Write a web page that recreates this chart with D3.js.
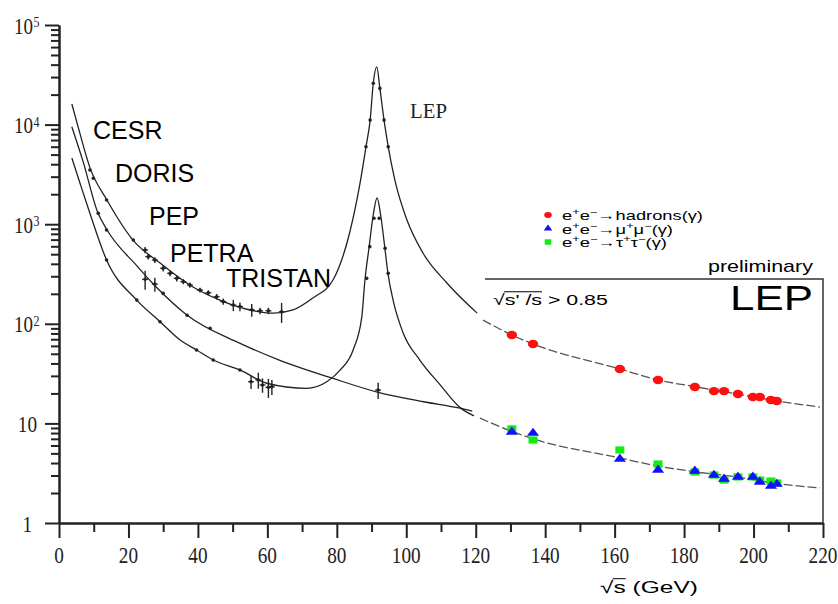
<!DOCTYPE html>
<html>
<head>
<meta charset="utf-8">
<script src="https://cdn.jsdelivr.net/npm/d3@7"></script>
<style>
  body { margin: 0; background: #fff; }
  .serif { font-family: "Liberation Serif", "Times New Roman", serif; fill: #222; }
  .sans { font-family: "Liberation Sans", Arial, sans-serif; fill: #000; }
</style>
</head>
<body>
<svg width="838" height="604"></svg>
<script>
// axis ticks
const xTicks = [0, 20, 40, 60, 80, 100, 120, 140, 160, 180, 200, 220];
const xMinorTicks = [10, 30, 50, 70, 90, 110, 130, 150, 170, 190, 210];
const yTicks = [1, 10, 100, 1000, 10000, 100000];
const yTickBase = ["1", "10", "10", "10", "10", "10"];
const yTickExp = ["", "", "2", "3", "4", "5"];

// theory curves: sqrt(s) in GeV, cross section in pb
const hadCurveE = [3.7, 6.0, 8.9, 13.8, 21.3, 29.1, 38.6, 46.3, 54.1, 61.6, 67.4, 73.1, 78.9, 83.8, 86.7, 88.4, 89.6, 90.5, 91.5, 92.4, 93.6, 94.8, 96.7, 100.2, 104.8, 111.7, 120.4];
const hadCurveS = [16100, 8200, 3700, 1750, 693, 408, 234, 173, 140, 128, 138, 182, 275, 850, 2600, 6000, 11100, 26000, 38000, 23100, 11100, 6000, 2780, 1100, 514, 257, 128];
const hadLep2E = [122.1, 130.4, 136.5, 161.5, 172.5, 183.7, 195.5, 206.7, 219.1];
const hadLep2S = [109, 77.2, 62.7, 35.2, 27.3, 23.2, 19.7, 16.8, 14.6];

const muCurveE = [3.7, 6.05, 8.9, 13.7, 22.4, 29.1, 34.8, 39.6, 44.4, 52.1, 59.8, 71.3, 77.1, 81.0, 84.7, 87.2, 88.1, 89.3, 90.4, 91.6, 92.7, 93.9, 94.7, 96.2, 99.1, 103.9, 109.7, 115.5, 119.5];
const muCurveS = [4620, 2575, 1286, 437, 173, 105, 69, 54.6, 43.3, 34.4, 25.3, 22.5, 26.2, 34.4, 54.6, 118, 275, 590, 1181, 1833, 1181, 551, 324, 173, 80.9, 43.3, 24.5, 14.4, 11.9];
const muLep2E = [121.2, 130.4, 136.5, 161.5, 172.2, 183.7, 195.2, 205.6, 219.1];
const muLep2S = [11.3, 8.3, 7.0, 4.5, 3.74, 3.25, 2.9, 2.52, 2.25];

const qedCurveE = [3.7, 6.9, 11.2, 13.8, 22.5, 28.2, 36.9, 52, 63.6, 78.5, 91.9, 105, 115.5, 119];
const qedCurveS = [9500, 4300, 1300, 880, 380, 230, 122, 64, 43, 28.6, 20.5, 16.5, 14.2, 13.3];

// low energy measurements (small black points)
const lowHadE = [8.9, 9.9, 13.7, 21.4, 24.8, 25.7, 27.6, 30.0, 32.0, 33.9, 35.8, 37.7, 40.6, 43.0, 45.4, 47.3, 50.2, 52.1, 55.5, 57.9, 60.3, 64.1];
const lowHadS = [3500, 2890, 1750, 694, 551, 472, 437, 361, 321, 286, 265, 245, 218, 205, 187, 167, 154, 149, 138, 135, 135, 132];
const lowHadErr = [0, 0, 0, 0, 40, 30, 30, 25, 20, 20, 15, 15, 12, 12, 12, 12, 20, 15, 20, 10, 10, 30];
const lowQedE = [11.3, 13.7, 24.8, 27.6, 30.0, 36.9, 43.5, 91.9];
const lowQedS = [1286, 875, 280, 250, 202, 122, 90, 21.6];
const lowQedErr = [0, 0, 60, 40, 0, 0, 0, 4];
const lowMuE = [13.7, 22.4, 29.1, 39.6, 44.4, 52.1, 55.3, 57.4, 58.6, 60.3, 61.3];
const lowMuS = [437, 173, 105, 54.6, 43.3, 34.4, 26.2, 27.3, 24.3, 23.0, 23.3];
const lowMuErr = [0, 0, 0, 0, 0, 0, 4, 5, 4, 5, 4];

// LEP1 scan points on the Z peak
const lep1HadE = [88.4, 89.6, 90.5, 92.4, 93.6, 94.8];
const lep1HadS = [6000, 11100, 26000, 23100, 11100, 6000];
const lep1MuE = [88.6, 89.5, 90.7, 92.2, 93.9, 94.8];
const lep1MuS = [286, 595, 1146, 1146, 573, 321];

// LEP2 measurements
const lep2E = [130.4, 136.5, 161.5, 172.5, 183.1, 188.6, 191.5, 195.5, 199.8, 201.8, 205.0, 206.7];
const lep2Had = [77.2, 62.7, 35.2, 27.3, 23.2, 21.1, 21.1, 19.7, 18.4, 18.4, 17.2, 16.8];
const lep2Mu = [8.2, 8.0, 4.39, 3.41, 3.33, 3.03, 2.77, 2.9, 2.9, 2.58, 2.35, 2.46];
const lep2Tau = [8.8, 6.81, 5.41, 3.91, 3.25, 3.03, 2.7, 2.9, 2.9, 2.7, 2.64, 2.52];

const legendLabels = ["e^+e^\u2212\u2192hadrons(\u03b3)", "e^+e^\u2212\u2192\u03bc^+\u03bc^\u2212(\u03b3)", "e^+e^\u2212\u2192\u03c4^+\u03c4^\u2212(\u03b3)"];
const legendColors = ["#ff1010", "#1010ff", "#10ee10"];
const machines = ["CESR", "DORIS", "PEP", "PETRA", "TRISTAN"];

const svg = d3.select("svg");

const x = d3.scaleLinear().domain([0, 220]).range([59, 823]);
const y = d3.scaleLog().domain([1, 1e5]).range([523, 25]);

// draw a text squeezed / stretched horizontally to a given width, "^c" = superscript c
function fitText(parent, str, x0, y0, w, anchor, cls, size) {
  const g = parent.append("g");
  const t = g.append("text").attr("class", cls).style("font-size", size + "px");
  let level = 0;
  str.split(/(\^.)/).filter(s => s.length).forEach(s => {
    const sup = s[0] === "^" ? 1 : 0;
    const ts = t.append("tspan").text(sup ? s[1] : s);
    if (sup !== level) ts.attr("dy", (level - sup) * size * 0.38);
    if (sup) ts.style("font-size", (size * 0.7) + "px");
    level = sup;
  });
  const k = w / t.node().getComputedTextLength();
  const dx = anchor === "end" ? -w : anchor === "middle" ? -w / 2 : 0;
  g.attr("transform", `translate(${x0 + dx},${y0}) scale(${k},1)`);
  return t;
}

// axes
svg.append("g").attr("transform", `translate(0,${y(1)})`)
  .call(d3.axisBottom(x).tickValues(xTicks).tickSize(15).tickSizeOuter(0).tickFormat(""));
svg.append("g").attr("transform", `translate(0,${y(1)})`)
  .call(d3.axisBottom(x).tickValues(xMinorTicks).tickSize(9).tickSizeOuter(0).tickFormat(""));
svg.append("g").attr("transform", `translate(${x(0)},0)`)
  .call(d3.axisLeft(y).tickValues(yTicks).tickSize(14).tickSizeOuter(0).tickFormat(""));
svg.append("g").attr("transform", `translate(${x(0)},0)`)
  .call(d3.axisLeft(y).tickValues(y.ticks().filter(v => yTicks.indexOf(v) < 0)).tickSize(8).tickSizeOuter(0).tickFormat(""));
svg.selectAll(".domain, .tick line").attr("stroke", "#222").attr("stroke-width", 2);
svg.selectAll(".tick text").remove();

xTicks.forEach(v => {
  fitText(svg, String(v), x(v), 563, 9.6 * String(v).length, "middle", "serif", 24);
});
yTicks.forEach((v, i) => {
  if (yTickExp[i]) {
    fitText(svg, yTickBase[i], 33, y(v) + 8.5, 19, "end", "serif", 24);
    fitText(svg, yTickExp[i], 33.5, y(v) + 2, 6, "start", "serif", 15);
  } else {
    fitText(svg, yTickBase[i], i === 0 ? 32 : 37, y(v) + 8.5, 9.6 * yTickBase[i].length, "end", "serif", 24);
  }
});

// x axis title with the root bar
const xt = fitText(svg, "\u221as (GeV)", 600, 593, 98, "start", "sans", 17);
const sq = xt.node().getExtentOfChar(0), sc = xt.node().getExtentOfChar(1);
d3.select(xt.node().parentNode).append("line")
  .attr("x1", sq.x + sq.width - 0.5).attr("x2", sc.x + sc.width)
  .attr("y1", sq.y + 1).attr("y2", sq.y + 1)
  .attr("stroke", "#000").attr("stroke-width", 1);

// curves
const line = d3.line().x(d => x(d[0])).y(d => y(d[1])).curve(d3.curveMonotoneX);
const curves = [
  [d3.zip(hadCurveE, hadCurveS), null],
  [d3.zip(muCurveE, muCurveS), null],
  [d3.zip(qedCurveE, qedCurveS), null],
  [d3.zip(hadLep2E, hadLep2S), "9,3"],
  [d3.zip(muLep2E, muLep2S), "9,3"]
];
curves.forEach(([pts, dash]) => {
  svg.append("path").datum(pts).attr("d", line)
    .attr("fill", "none").attr("stroke", dash ? "#555" : "#222")
    .attr("stroke-width", 1.3).attr("stroke-dasharray", dash);
});

// low energy and LEP1 points with error bars
function smallPoints(E, S, err) {
  E.forEach((e, i) => {
    const er = err ? err[i] : 0;
    if (er > 0) {
      svg.append("line").attr("x1", x(e)).attr("x2", x(e))
        .attr("y1", y(S[i] - er)).attr("y2", y(S[i] + er))
        .attr("stroke", "#222").attr("stroke-width", 1.4);
      svg.append("line").attr("x1", x(e) - 3).attr("x2", x(e) + 3)
        .attr("y1", y(S[i])).attr("y2", y(S[i]))
        .attr("stroke", "#222").attr("stroke-width", 1.2);
    }
    svg.append("circle").attr("cx", x(e)).attr("cy", y(S[i])).attr("r", 1.8).attr("fill", "#222");
  });
}
smallPoints(lowHadE, lowHadS, lowHadErr);
smallPoints(lowQedE, lowQedS, lowQedErr);
smallPoints(lowMuE, lowMuS, lowMuErr);
smallPoints(lep1HadE, lep1HadS, null);
smallPoints(lep1MuE, lep1MuS, null);

// LEP2 points
const tri = d3.symbol().type(d3.symbolTriangle).size(38)();
const sqr = d3.symbol().type(d3.symbolSquare).size(52)();
svg.selectAll(".tau").data(d3.zip(lep2E, lep2Tau)).enter().append("path")
  .attr("class", "tau").attr("d", sqr).attr("fill", legendColors[2])
  .attr("transform", d => `translate(${x(d[0])},${y(d[1])}) scale(1.25,1)`);
svg.selectAll(".mu").data(d3.zip(lep2E, lep2Mu)).enter().append("path")
  .attr("class", "mu").attr("d", tri).attr("fill", legendColors[1])
  .attr("transform", d => `translate(${x(d[0])},${y(d[1])}) scale(1.3,1)`);
svg.selectAll(".had").data(d3.zip(lep2E, lep2Had)).enter().append("ellipse")
  .attr("class", "had").attr("cx", d => x(d[0])).attr("cy", d => y(d[1]))
  .attr("rx", 5.2).attr("ry", 4.2).attr("fill", legendColors[0]);

// legend
const legY = [215, 228.5, 242];
const legW = [141, 111, 105];
legendLabels.forEach((lab, i) => {
  if (i === 0) svg.append("ellipse").attr("cx", 548).attr("cy", legY[i]).attr("rx", 3.8).attr("ry", 3).attr("fill", legendColors[i]);
  if (i === 1) svg.append("path").attr("d", d3.symbol().type(d3.symbolTriangle).size(22)()).attr("fill", legendColors[i]).attr("transform", `translate(548,${legY[i]}) scale(1.2,1)`);
  if (i === 2) svg.append("path").attr("d", d3.symbol().type(d3.symbolSquare).size(30)()).attr("fill", legendColors[i]).attr("transform", `translate(548,${legY[i]}) scale(1.2,1)`);
  fitText(svg, lab, 562, legY[i] + 5, legW[i], "start", "sans", 12.5);
});

// LEP2 inset frame and texts
svg.append("path").attr("d", `M485,279H${x(220)}V${y(1)}`)
  .attr("fill", "none").attr("stroke", "#333").attr("stroke-width", 1.5);
fitText(svg, "preliminary", 813, 272, 105, "end", "sans", 16);
fitText(svg, "LEP", 813, 310, 83, "end", "sans", 35);
const ct = fitText(svg, "\u221as' /s > 0.85", 493, 305, 115, "start", "sans", 15);
const c0 = ct.node().getExtentOfChar(0), c4 = ct.node().getExtentOfChar(5);
d3.select(ct.node().parentNode).append("line")
  .attr("x1", c0.x + c0.width - 0.5).attr("x2", c4.x + c4.width)
  .attr("y1", c0.y + 0.5).attr("y2", c0.y + 0.5)
  .attr("stroke", "#000").attr("stroke-width", 1);

// machine labels
const machX = [93, 115, 149, 170, 226];
const machY = [139, 182, 225, 262, 287];
machines.forEach((m, i) => {
  svg.append("text").attr("class", "sans").attr("x", machX[i]).attr("y", machY[i])
    .style("font-size", "25px").text(m);
});
fitText(svg, "LEP", 410, 118, 37, "start", "serif", 22);
</script>
</body>
</html>
